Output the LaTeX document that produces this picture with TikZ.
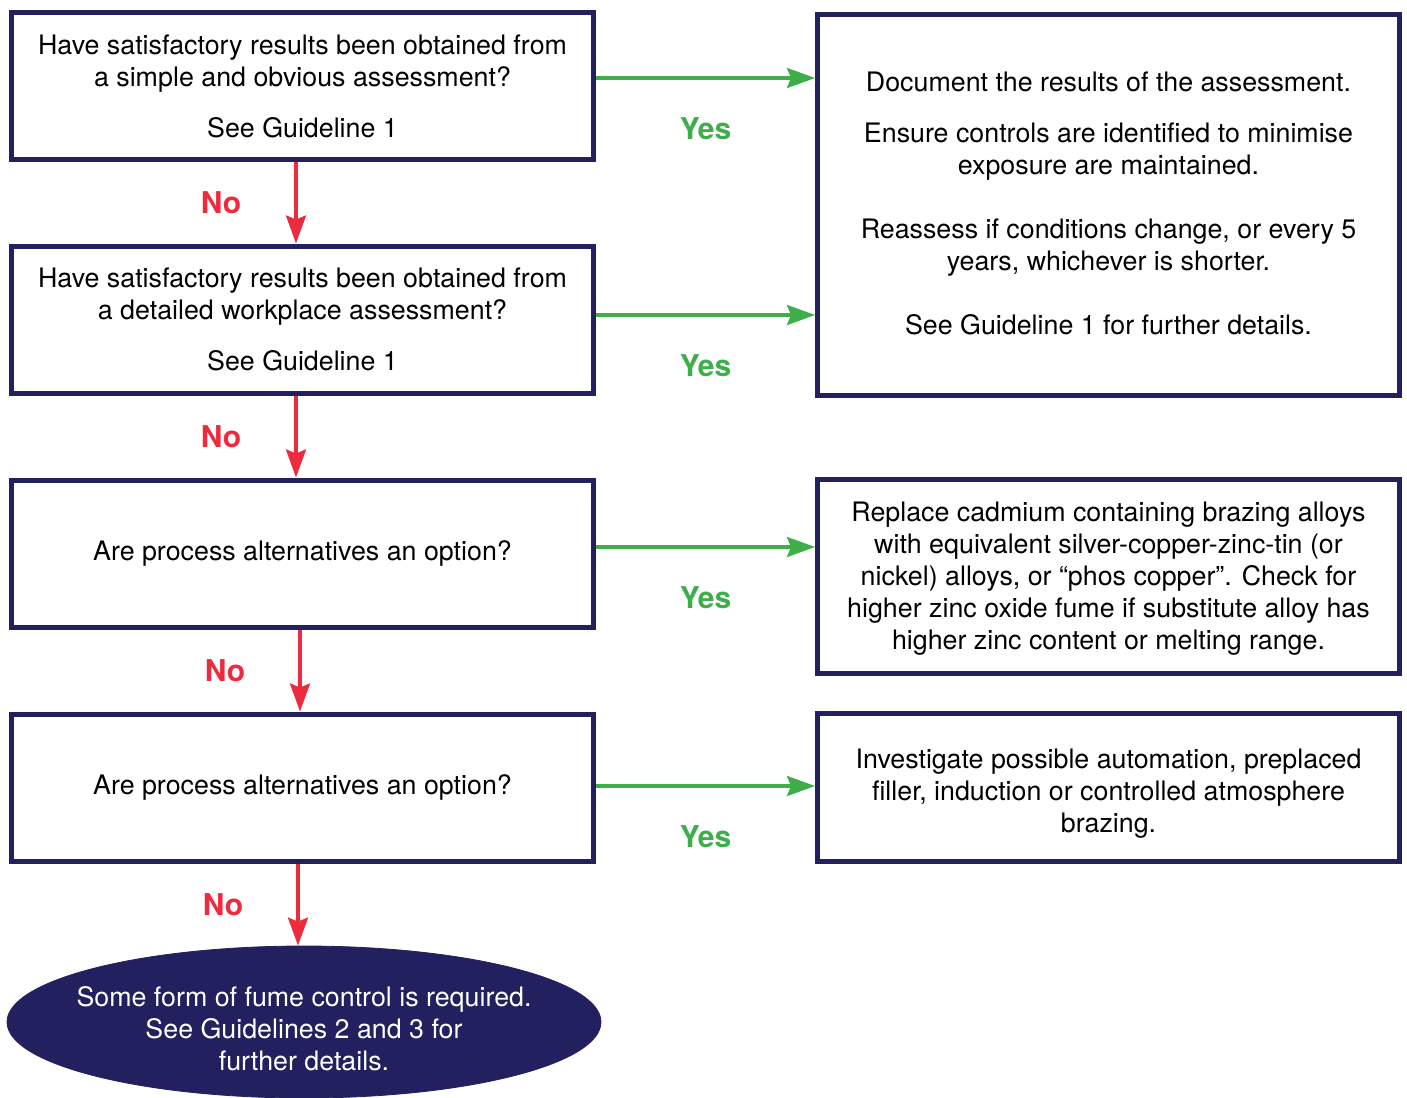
\documentclass[tikz,border=0pt]{standalone}
\usepackage{fontspec}
\setmainfont{TeX Gyre Heros}
\usepackage{xcolor}
\usepackage{tikz}
\usetikzlibrary{arrows.meta,shapes.geometric}

\definecolor{navy}{HTML}{22205F}
\definecolor{yesgreen}{HTML}{3DAE49}
\definecolor{nored}{HTML}{EE2A3E}

\begin{document}
\begin{tikzpicture}[x=0.5pt, y=-0.5pt,
    box/.style={draw=navy, line width=2.5pt, minimum width=291pt, align=center,
      inner sep=0pt, font=\fontsize{13.4}{16}\selectfont},
    yesarrow/.style={draw=yesgreen, line width=1.6pt,
      -{Stealth[length=14pt,width=10pt,inset=2pt]}},
    noarrow/.style={draw=nored, line width=1.6pt,
      -{Stealth[length=14pt,width=10pt,inset=2pt]}},
    yeslabel/.style={text=yesgreen, font=\fontsize{15}{16}\selectfont\bfseries},
    nolabel/.style={text=nored, font=\fontsize{15}{16}\selectfont\bfseries}]
    \useasboundingbox (0,0) rectangle (1407,1097);
    % Questions on the left
    \node[box, minimum height=73.5pt] (q1) at (302.5,86)
      {Have satisfactory results been obtained from\\
       a simple and obvious assessment?\\[9.5pt]
       See Guideline 1};
    \node[box, minimum height=73.5pt] (q2) at (302.5,319.5)
      {Have satisfactory results been obtained from\\
       a detailed workplace assessment?\\[9.5pt]
       See Guideline 1};
    \node[box, minimum height=73.5pt] (q3) at (302.5,553.5)
      {Are process alternatives an option?};
    \node[box, minimum height=73.5pt] (q4) at (302.5,787.5)
      {Are process alternatives an option?};
    % Final outcome
    \node[ellipse, draw=navy, fill=navy, minimum width=297pt,
      minimum height=76pt, inner sep=0pt] (fume) at (304,1022) {};
    \node[text=white, align=center, font=\fontsize{13.4}{16}\selectfont]
      (fumetext) at (304,1029)
      {Some form of fume control is required.\\
       See Guidelines 2 and 3 for\\
       further details.};
    % Actions on the right
    \node[box, minimum height=190.5pt] (r1) at (1108.5,205)
      {Document the results of the assessment.\\[9.5pt]
       Ensure controls are identified to minimise\\
       exposure are maintained.\\[16pt]
       Reassess if conditions change, or every 5\\
       years, whichever is shorter.\\[16pt]
       See Guideline 1 for further details.\rule[-2pt]{0pt}{0pt}};
    \node[box, minimum height=97pt] (r2) at (1108.5,576.5)
      {\rule{0pt}{11.7pt}Replace cadmium containing brazing alloys\\
       with equivalent silver-copper-zinc-tin (or\\
       nickel) alloys, or “phos copper”. Check for\\
       higher zinc oxide fume if substitute alloy has\\
       higher zinc content or melting range.};
    \node[box, minimum height=74pt] (r3) at (1108.5,787.5)
      {\rule{0pt}{15.7pt}Investigate possible automation, preplaced\\
       filler, induction or controlled atmosphere\\
       brazing.};
    % Yes branches
    \coordinate (y1) at ([yshift=4pt]q1.east);
    \coordinate (y2) at ([yshift=2.25pt]q2.east);
    \coordinate (y3) at ([yshift=3.25pt]q3.east);
    \coordinate (y4) at ([yshift=0.75pt]q4.east);
    \draw[yesarrow] (y1) -- (y1 -| r1.west) node[yeslabel, midway, yshift=-25.5pt] {Yes};
    \draw[yesarrow] (y2) -- (y2 -| r1.west) node[yeslabel, midway, yshift=-25.5pt] {Yes};
    \draw[yesarrow] (y3) -- (y3 -| r2.west) node[yeslabel, midway, yshift=-25.5pt] {Yes};
    \draw[yesarrow] (y4) -- (y4 -| r3.west) node[yeslabel, midway, yshift=-25.5pt] {Yes};
    % No branches
    \coordinate (n1) at ([xshift=-3.25pt]q1.south);
    \coordinate (n2) at ([xshift=-3.25pt]q2.south);
    \coordinate (n3) at ([xshift=-1.25pt]q3.south);
    \coordinate (n4) at ([xshift=-2.25pt]q4.south);
    \draw[noarrow] (n1) -- (n1 |- q2.north) node[nolabel, midway, xshift=-37.5pt] {No};
    \draw[noarrow] (n2) -- (n2 |- q3.north) node[nolabel, midway, xshift=-37.5pt] {No};
    \draw[noarrow] (n3) -- (n3 |- q4.north) node[nolabel, midway, xshift=-37.5pt] {No};
    \draw[noarrow] (n4) -- (n4 |- fume.north) node[nolabel, midway, xshift=-37.5pt] {No};
  \end{tikzpicture}
\end{document}
